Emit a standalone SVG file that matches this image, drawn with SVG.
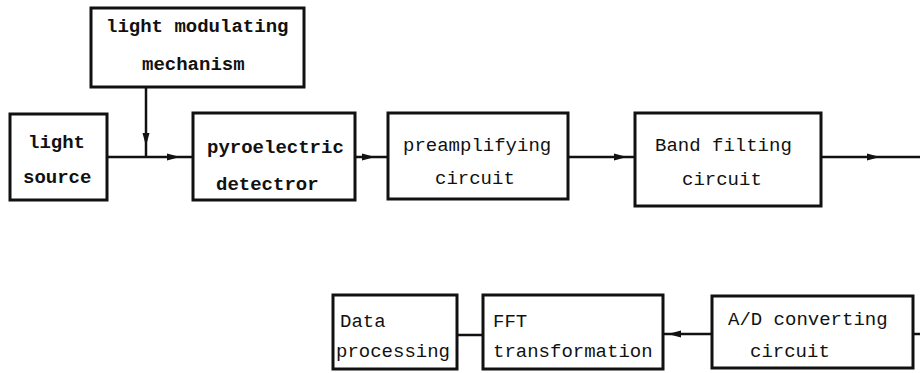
<svg xmlns="http://www.w3.org/2000/svg" width="920" height="373" viewBox="0 0 920 373">
<style>
.box{fill:#fff;stroke:#111;stroke-width:3}
.t{font-family:"Liberation Mono","DejaVu Sans Mono",monospace;font-size:19px;fill:#111}
.b{font-weight:bold}
.c{fill:none;stroke:#111;stroke-width:2.5}
</style>
<defs>
<marker id="ah" viewBox="0 -4 13 8" markerWidth="13" markerHeight="8" refX="13" refY="0" orient="auto" markerUnits="userSpaceOnUse">
<path d="M0,-3.5 L13,0 L0,3.5 z" fill="#111"/>
</marker>
</defs>
<rect width="920" height="373" fill="#fff"/>
<g id="connectors">
<polyline class="c" points="146,87 146,146 146,157" marker-mid="url(#ah)"/>
<polyline class="c" points="107,157 180,157 192,157" marker-mid="url(#ah)"/>
<polyline class="c" points="355,157 375,157 388,157" marker-mid="url(#ah)"/>
<polyline class="c" points="568,157 627,157 635,157" marker-mid="url(#ah)"/>
<polyline class="c" points="821,157 880,157 920,157" marker-mid="url(#ah)"/>
<polyline class="c" points="913,334 920,334"/>
<polyline class="c" points="712,334 668,334 663,334" marker-mid="url(#ah)"/>
<polyline class="c" points="483,335 457,335"/>
</g>
<g id="modulator">
<rect class="box" x="91" y="8" width="213" height="79"/>
<text class="t b" x="106" y="32">light modulating</text>
<text class="t b" x="142" y="70">mechanism</text>
</g>
<g id="source">
<rect class="box" x="10" y="114" width="97" height="86"/>
<text class="t b" x="28" y="148">light</text>
<text class="t b" x="23" y="183">source</text>
</g>
<g id="pyro">
<rect class="box" x="193" y="113" width="162" height="87"/>
<text class="t b" x="207" y="153">pyroelectric</text>
<text class="t b" x="216" y="190">detectror</text>
</g>
<g id="preamp">
<rect class="box" x="388" y="113" width="180" height="86"/>
<text class="t" x="403" y="151">preamplifying</text>
<text class="t" x="435" y="184">circuit</text>
</g>
<g id="band">
<rect class="box" x="635" y="113" width="186" height="93"/>
<text class="t" x="655" y="151">Band filting</text>
<text class="t" x="682" y="185">circuit</text>
</g>
<g id="data">
<rect class="box" x="333" y="295" width="124" height="74"/>
<text class="t" x="340" y="327">Data</text>
<text class="t" x="336" y="357">processing</text>
</g>
<g id="fft">
<rect class="box" x="483" y="295" width="180" height="74"/>
<text class="t" x="493" y="327">FFT</text>
<text class="t" x="493" y="357">transformation</text>
</g>
<g id="adc">
<rect class="box" x="712" y="296" width="201" height="72"/>
<text class="t" x="728" y="325">A/D converting</text>
<text class="t" x="750" y="357">circuit</text>
</g>
</svg>
